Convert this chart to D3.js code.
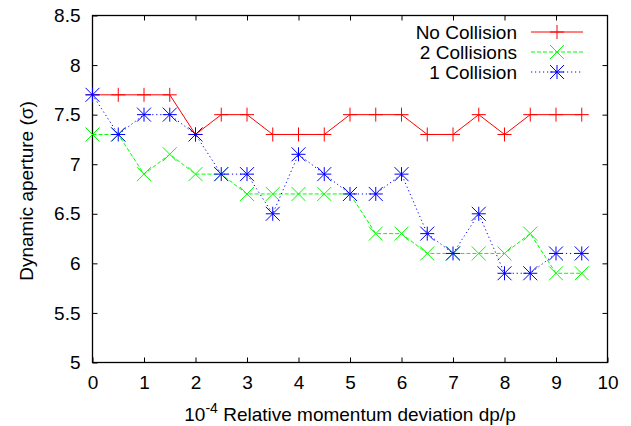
<!DOCTYPE html>
<html>
<head>
<meta charset="utf-8">
<script src="https://cdn.jsdelivr.net/npm/d3@7"></script>
<style>
  body { margin: 0; background: #fff; }
  text { font-family: "Liberation Sans", Arial, sans-serif; fill: #000; }
</style>
</head>
<body>
<div class="board"></div>
<script>
var WIDTH = 631;
var HEIGHT = 426;
var FONT = 19;
var margin = { left: 92.5, right: 23.5, top: 15.5, bottom: 63.5 };

var dp = [0, 0.5, 1, 1.5, 2, 2.5, 3, 3.5, 4, 4.5, 5, 5.5, 6, 6.5, 7, 7.5, 8, 8.5, 9, 9.5];
var noCollision = [7.7, 7.7, 7.7, 7.7, 7.3, 7.5, 7.5, 7.3, 7.3, 7.3, 7.5, 7.5, 7.5, 7.3, 7.3, 7.5, 7.3, 7.5, 7.5, 7.5];
var twoCollisions = [7.3, 7.3, 6.9, 7.1, 6.9, 6.9, 6.7, 6.7, 6.7, 6.7, 6.7, 6.3, 6.3, 6.1, 6.1, 6.1, 6.1, 6.3, 5.9, 5.9];
var oneCollision = [7.7, 7.3, 7.5, 7.5, 7.3, 6.9, 6.9, 6.5, 7.1, 6.9, 6.7, 6.7, 6.9, 6.3, 6.1, 6.5, 5.9, 5.9, 6.1, 6.1];
var xTicks = [0, 1, 2, 3, 4, 5, 6, 7, 8, 9, 10];
var yTicks = [5, 5.5, 6, 6.5, 7, 7.5, 8, 8.5];

var series = [
  { name: 'No Collision', values: noCollision, color: '#ff0000', dash: null, marker: 'plus' },
  { name: '2 Collisions', values: twoCollisions, color: '#00ff00', dash: '4,2', marker: 'cross' },
  { name: '1 Collision', values: oneCollision, color: '#0000ff', dash: '1.2,2.8', marker: 'star' }
];

var x = d3.scaleLinear().domain([0, 10]).range([margin.left, WIDTH - margin.right]);
var y = d3.scaleLinear().domain([5, 8.5]).range([HEIGHT - margin.bottom, margin.top]);

var svg = d3.select('.board')
  .append('svg')
  .attr('width', WIDTH)
  .attr('height', HEIGHT);

// ticks, gnuplot style: inward, mirrored on all sides
var tickLen = 5;
var axisStyle = function(g) {
  g.select('.domain').remove();
  g.selectAll('line').attr('stroke', '#000');
  g.selectAll('text').attr('font-size', FONT);
};
svg.append('g')
  .attr('transform', 'translate(0,' + y(5) + ')')
  .call(d3.axisBottom(x).tickValues(xTicks).tickSizeInner(-tickLen).tickPadding(13).tickFormat(d3.format('d')))
  .call(axisStyle)
  .selectAll('text').attr('dy', '0.71em');
svg.append('g')
  .attr('transform', 'translate(0,' + y(8.5) + ')')
  .call(d3.axisTop(x).tickValues(xTicks.slice(1, -1)).tickSizeInner(-tickLen).tickFormat(''))
  .call(axisStyle);
svg.append('g')
  .attr('transform', 'translate(' + x(0) + ',0)')
  .call(d3.axisLeft(y).tickValues(yTicks).tickSizeInner(-tickLen).tickPadding(12).tickFormat(d3.format('')))
  .call(axisStyle);
svg.append('g')
  .attr('transform', 'translate(' + x(10) + ',0)')
  .call(d3.axisRight(y).tickValues(yTicks.slice(1, -1)).tickSizeInner(-tickLen).tickFormat(''))
  .call(axisStyle);

svg.append('rect')
  .attr('x', x(0)).attr('y', y(8.5))
  .attr('width', x(10) - x(0)).attr('height', y(5) - y(8.5))
  .attr('fill', 'none').attr('stroke', '#000').attr('stroke-width', 1.3);

// markers
var S = 7;
var markerPath = function(type, cx, cy) {
  var p = d3.path();
  if (type === 'plus' || type === 'star') {
    p.moveTo(cx - S, cy); p.lineTo(cx + S, cy);
    p.moveTo(cx, cy - S); p.lineTo(cx, cy + S);
  }
  if (type === 'cross' || type === 'star') {
    p.moveTo(cx - S, cy - S); p.lineTo(cx + S, cy + S);
    p.moveTo(cx - S, cy + S); p.lineTo(cx + S, cy - S);
  }
  return p.toString();
};

var line = d3.line()
  .x(function(d, i) { return x(dp[i]); })
  .y(function(d) { return y(d); });

series.forEach(function(s) {
  svg.append('path')
    .datum(s.values)
    .attr('d', line)
    .attr('fill', 'none')
    .attr('stroke', s.color)
    .attr('stroke-width', 1)
    .attr('stroke-dasharray', s.dash);
  svg.append('g').selectAll('path')
    .data(s.values)
    .enter()
    .append('path')
    .attr('d', function(d, i) { return markerPath(s.marker, x(dp[i]), y(d)); })
    .attr('fill', 'none')
    .attr('stroke', s.color)
    .attr('stroke-width', 1);
});

// legend
var legend = svg.append('g');
series.forEach(function(s, i) {
  var ly = 32 + i * 20;
  legend.append('text')
    .attr('x', 517).attr('y', ly).attr('dy', '0.35em')
    .attr('text-anchor', 'end').attr('font-size', FONT)
    .text(s.name);
  legend.append('line')
    .attr('x1', 531).attr('x2', 583).attr('y1', ly).attr('y2', ly)
    .attr('stroke', s.color).attr('stroke-width', 1)
    .attr('stroke-dasharray', s.dash);
  legend.append('path')
    .attr('d', markerPath(s.marker, 557, ly))
    .attr('fill', 'none').attr('stroke', s.color);
});

// axis titles
var xt = svg.append('text')
  .attr('x', 350).attr('y', 421)
  .attr('text-anchor', 'middle').attr('font-size', FONT);
xt.append('tspan').text('10');
xt.append('tspan').attr('dy', -8).attr('font-size', 14).text('-4');
xt.append('tspan').attr('dy', 8).text(' Relative momentum deviation dp/p');

svg.append('text')
  .attr('transform', 'translate(33,191) rotate(-90)')
  .attr('text-anchor', 'middle').attr('font-size', FONT)
  .text('Dynamic aperture (σ)');
</script>
</body>
</html>
